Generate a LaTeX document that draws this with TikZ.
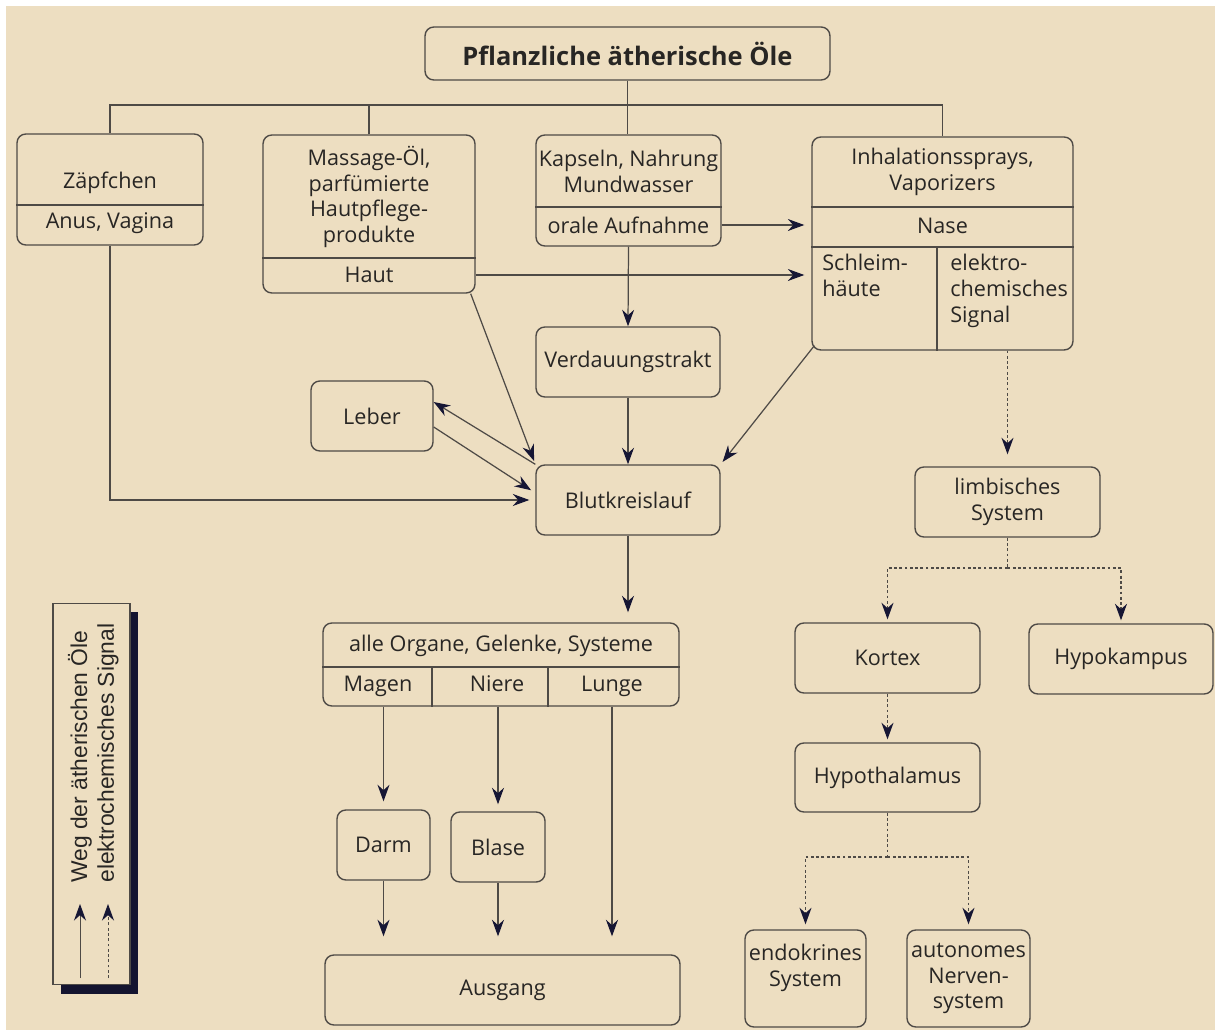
\documentclass[tikz,border=0pt]{standalone}
\usepackage{fontspec}
\setmainfont{Open Sans}
\newfontfamily\legendfont{Liberation Sans}
\usetikzlibrary{
  arrows.meta,
  calc,
  shadows
}
\definecolor{papercolor}{RGB}{237,222,193}
\definecolor{linecolor}{RGB}{78,74,70}
\definecolor{tipcolor}{RGB}{22,22,52}
\definecolor{textcolor}{RGB}{40,38,36}
\definecolor{shadowcolor}{RGB}{20,20,48}
\tikzset{
boxtext/.style={
  font=\fontsize{12.3}{14.7}\selectfont,
  text=textcolor,
  align=center
},
box/.style={
  draw=linecolor,
  line width=0.8pt,
  rounded corners=5pt,
  inner sep=0pt,
  boxtext
},
parttext/.style={
  inner sep=0pt,
  boxtext
},
divider/.style={
  draw=linecolor,
  line width=0.8pt
},
busline/.style={
  draw=linecolor,
  line width=0.7pt
},
arrow/.style={
  -{Stealth[length=3.3mm,width=2.4mm,color=tipcolor]},
  line width=0.7pt,
  draw=linecolor
},
signal/.style={
  line width=0.7pt,
  draw=linecolor,
  dash pattern=on 1.6pt off 1.4pt
},
sigarrow/.style={
  arrow,
  dash pattern=on 1.6pt off 1.4pt
},
legendbox/.style={
  draw=linecolor,
  fill=papercolor,
  line width=0.6pt,
  drop shadow={shadow xshift=0.16cm, shadow yshift=-0.18cm, opacity=1, fill=shadowcolor}
},
legendtext/.style={
  font=\legendfont\fontsize{13}{14}\selectfont,
  text=textcolor,
  inner sep=0pt
}
}

\begin{document}
\begin{tikzpicture}[x=0.02cm, y=-0.02cm]
  \useasboundingbox (0,0) rectangle (1215,1030);
  \fill[white] (0,0) rectangle (1215,1030);
  \fill[papercolor] (6,6) rectangle (1215,1030);

  % title and sources
  \node[box, minimum width=8.1cm, minimum height=1.06cm,
        font=\bfseries\fontsize{14.5}{17}\selectfont] (title) at (627.5,53.5) {Pflanzliche ätherische Öle};

  \node[box, minimum width=3.72cm, minimum height=2.22cm] (zap) at (110,189.5) {};
  \node[parttext] (zaptop) at (110,183) {Zäpfchen};
  \node[parttext] (zapsub) at (110,223) {Anus, Vagina};
  \draw[divider] (zap.west |- 0,205) -- (zap.east |- 0,205);

  \node[box, minimum width=4.24cm, minimum height=3.16cm] (mass) at (369,214) {};
  \node[parttext] (masstop) at (369,197) {Massage-Öl,\\parfümierte\\Hautpflege-\\produkte};
  \node[parttext] (haut) at (369,275) {Haut};
  \draw[divider] (mass.west |- 0,258) -- (mass.east |- 0,258);

  \node[box, minimum width=3.7cm, minimum height=2.22cm] (kap) at (628.5,190.5) {};
  \node[parttext] (kaptop) at (628.5,171) {Kapseln, Nahrung\\Mundwasser};
  \node[parttext] (kapsub) at (628.5,225) {orale Aufnahme};
  \draw[divider] (kap.west |- 0,207) -- (kap.east |- 0,207);

  \node[box, minimum width=5.22cm, minimum height=4.26cm] (inhal) at (942.5,243.5) {};
  \node[parttext] (inhaltop) at (942.5,172) {Inhalationssprays,\\Vaporizers};
  \node[parttext] (nase) at (942.5,226) {Nase};
  \node[parttext, anchor=north west, align=left] (schleim) at (822,254) {Schleim-\\häute};
  \node[parttext, anchor=north west, align=left] (elsignal) at (950,254) {elektro-\\chemisches\\Signal};
  \draw[divider] (inhal.west |- 0,207) -- (inhal.east |- 0,207);
  \draw[divider] (inhal.west |- 0,247) -- (inhal.east |- 0,247);
  \draw[divider] (937,247) -- (inhal.south -| 937,0);

  \coordinate (bus) at (627.5,105);
  \draw[busline] (title.south) -- (bus);
  \draw[busline] (zap.north) |- (bus) -| (inhal.north);
  \draw[busline] (mass.north) -- (mass.north |- bus);
  \draw[busline] (bus) -- (bus |- kap.north);

  % blood path
  \node[box, minimum width=3.68cm, minimum height=1.4cm] (verd) at (628,362) {Verdauungstrakt};
  \node[box, minimum width=3.68cm, minimum height=1.4cm] (blut) at (628,500) {Blutkreislauf};
  \node[box, minimum width=2.44cm, minimum height=1.4cm] (leber) at (372,416) {Leber};

  \draw[arrow, shorten >=0.14cm] (kap.east |- kapsub) -- (inhal.west |- kapsub);
  \draw[arrow, shorten >=0.14cm] (mass.east |- haut) -- (inhal.west |- haut);
  \draw[arrow] (kap.south) -- (verd.north);
  \draw[arrow] (verd) -- (blut);
  \draw[arrow, shorten >=2pt] ([xshift=-0.1cm]mass.south east) -- (blut.north west);
  \draw[arrow] (blut.north west) -- ([yshift=0.28cm]leber.east);
  \draw[arrow, shorten >=0.1cm] ([yshift=-0.22cm]leber.east) -- ([yshift=0.14cm]blut.west);
  \draw[arrow, shorten >=0.12cm] (zap.south) |- (blut.west);
  \draw[arrow, shorten >=0.06cm] ([xshift=0.06cm,yshift=0.1cm]inhal.south west) -- (blut.north east);

  % organs
  \node[box, minimum width=7.12cm, minimum height=1.66cm] (organe) at (501,664.5) {};
  \node[parttext] (organetop) at (501,646) {alle Organe, Gelenke, Systeme};
  \node[parttext, anchor=base] (magen) at (378,692) {Magen};
  \node[parttext, anchor=base] (niere) at (497,692) {Niere};
  \node[parttext, anchor=base] (lunge) at (612,692) {Lunge};
  \draw[divider] (organe.west |- 0,667) -- (organe.east |- 0,667);
  \draw[divider] (432,667) -- (organe.south -| 432,0);
  \draw[divider] (548,667) -- (organe.south -| 548,0);

  \node[box, minimum width=1.86cm, minimum height=1.4cm] (darm) at (383.5,845) {Darm};
  \node[box, minimum width=1.88cm, minimum height=1.4cm] (blase) at (498,847) {Blase};
  \node[box, minimum width=7.1cm, minimum height=1.4cm] (ausgang) at (502.5,990) {Ausgang};

  \draw[arrow, shorten >=0.2cm] (blut.south) -- (blut.south |- organe.north);
  \draw[arrow, shorten >=0.16cm] (darm.north |- organe.south) -- (darm.north);
  \draw[arrow, shorten >=0.14cm] (blase.north |- organe.south) -- (blase.north);
  \draw[arrow, shorten >=0.36cm] (lunge.center |- organe.south) -- (lunge.center |- ausgang.north);
  \draw[arrow, shorten >=0.36cm] (darm.south) -- (darm.south |- ausgang.north);
  \draw[arrow, shorten >=0.36cm] (blase.south) -- (blase.south |- ausgang.north);

  % signal path
  \node[box, minimum width=3.7cm, minimum height=1.4cm] (limb) at (1007.5,502) {limbisches\\System};
  \node[box, minimum width=3.7cm, minimum height=1.4cm] (kortex) at (887.5,658) {Kortex};
  \node[box, minimum width=3.68cm, minimum height=1.4cm] (hypok) at (1121,659) {Hypokampus};
  \node[box, minimum width=3.7cm, minimum height=1.38cm] (hypoth) at (887.5,777.5) {Hypothalamus};
  \node[box, minimum width=2.42cm, minimum height=1.94cm] (endo) at (805.5,978.5) {};
  \node[parttext] (endotxt) at (805.5,968) {endokrines\\System};
  \node[box, minimum width=2.46cm, minimum height=1.94cm] (auto) at (968.5,978.5) {autonomes\\Nerven-\\system};

  \draw[sigarrow, shorten >=0.24cm] (inhal.south -| limb.north) -- (limb.north);
  \coordinate (limbsplit) at (1007.5,568);
  \draw[signal] (limb.south) -- (limbsplit);
  \draw[sigarrow, shorten >=0.06cm] (limbsplit) -| (kortex.north);
  \draw[sigarrow, shorten >=0.06cm] (limbsplit) -| (hypok.north);
  \draw[sigarrow, shorten >=0.06cm] (kortex) -- (hypoth);
  \coordinate (hyposplit) at (887.5,857);
  \draw[signal] (hypoth.south) -- (hyposplit);
  \draw[sigarrow, shorten >=0.1cm] (hyposplit) -| (endo.north);
  \draw[sigarrow, shorten >=0.1cm] (hyposplit) -| (auto.north);

  % legend
  \node[legendbox, minimum width=1.54cm, minimum height=7.64cm] (legend) at (91.5,794) {};
  \node[legendtext, rotate=90, anchor=west] (legweg) at (80,883) {Weg der ätherischen Öle};
  \node[legendtext, rotate=90, anchor=west] (legsig) at (108,883) {elektrochemisches Signal};
  \coordinate (wegfrom) at (80,978);
  \coordinate (wegto) at (80,904);
  \coordinate (sigfrom) at (108,978);
  \coordinate (sigto) at (108,904);
  \draw[arrow, line width=0.5pt] (wegfrom) -- (wegto);
  \draw[sigarrow, line width=0.5pt] (sigfrom) -- (sigto);
\end{tikzpicture}
\end{document}
